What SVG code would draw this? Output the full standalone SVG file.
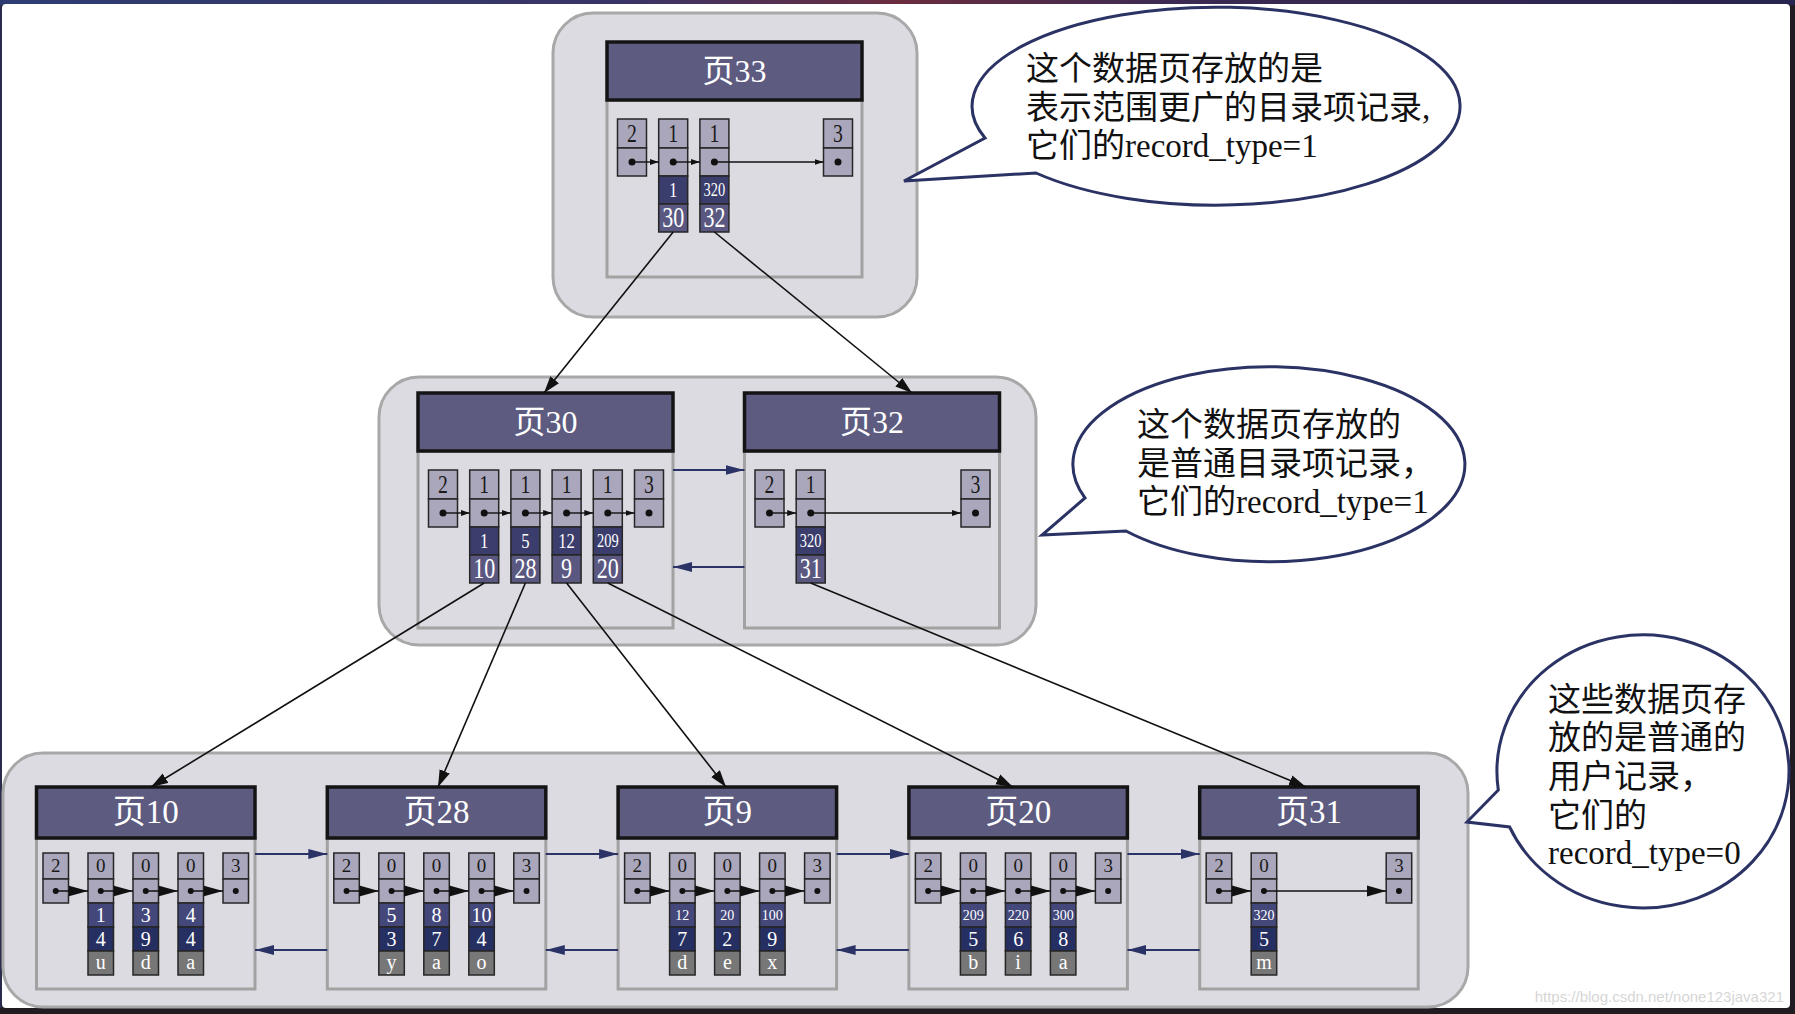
<svg xmlns="http://www.w3.org/2000/svg" xmlns:xlink="http://www.w3.org/1999/xlink" width="1795" height="1014" viewBox="0 0 1795 1014">
<style>
.frame{fill:#fff}
.box{fill:#dcdbe1;stroke:#a8a8a8;stroke-width:3}
.body{fill:#dcdbe1;stroke:#a2a2a2;stroke-width:3}
.hdr{fill:#5d5b80;stroke:#141414;stroke-width:3.5}
.c{fill:#aaa7bc;stroke:#262626;stroke-width:1.5}
.d1{fill:#3b3d6c;stroke:#262626;stroke-width:1.5}
.d2{fill:#5a5881;stroke:#262626;stroke-width:1.5}
.b1{fill:#43477a;stroke:#262626;stroke-width:1.5}
.b2{fill:#262f62;stroke:#262626;stroke-width:1.5}
.b3{fill:#777;stroke:#262626;stroke-width:1.5}
.dot{fill:#111}
text{font-family:"Liberation Serif","Noto Sans CJK SC",serif;text-anchor:middle}
.ht{font-size:32px;fill:#fff}
.hb{font-size:33px;fill:#fff}
.cd{transform:scaleX(0.76);transform-box:fill-box;transform-origin:center}
.ul{font-size:26px;fill:#1a1a1a}
.u1{font-size:22px;fill:#fff}
.u1s{font-size:19px;fill:#fff}
.u2{font-size:29px;fill:#fff}
.bl{font-size:19px;fill:#1a1a1a}
.bd{font-size:20px;fill:#fff}
.bs{font-size:14px;fill:#fff}
.ptr{stroke:#111;stroke-width:1.4;fill:none}
.con{stroke:#111;stroke-width:1.6;fill:none}
.lnk{stroke:#2b3366;stroke-width:2;fill:none}
.callout{fill:#fff;stroke:#2b3264;stroke-width:3;stroke-linejoin:miter}
.ct{font-family:"Liberation Serif","Noto Sans CJK SC",serif;font-size:33px;fill:#111;text-anchor:start}
</style>
<defs>
<linearGradient id="topg" x1="0" y1="0" x2="1" y2="0">
<stop offset="0" stop-color="#2d3d72"/>
<stop offset="0.35" stop-color="#3a3466"/>
<stop offset="0.5" stop-color="#6b2c3e"/>
<stop offset="0.65" stop-color="#3c2a52"/>
<stop offset="1" stop-color="#272450"/>
</linearGradient>
<marker id="ab" markerUnits="userSpaceOnUse" markerWidth="18" markerHeight="12" refX="17" refY="6" orient="auto"><path d="M0,0.5 L17,6 L0,11.5 z" fill="#111"/></marker>
<marker id="as" markerUnits="userSpaceOnUse" markerWidth="10" markerHeight="7" refX="9" refY="3.5" orient="auto"><path d="M0,0.5 L9,3.5 L0,6.5 z" fill="#111"/></marker>
<marker id="ap" markerUnits="userSpaceOnUse" markerWidth="20" markerHeight="12" refX="19.5" refY="6" orient="auto"><path d="M0,0.5 L19.5,6 L0,11.5 z" fill="#111"/></marker>
<marker id="an" markerUnits="userSpaceOnUse" markerWidth="20" markerHeight="11" refX="19" refY="5.5" orient="auto"><path d="M0,0.5 L19,5.5 L0,10.5 z" fill="#2b3366"/></marker>
<g id="uc"><rect class="c" x="0" y="0" width="29" height="29"/><rect class="c" x="0" y="29" width="29" height="28"/><circle class="dot" cx="14.5" cy="43" r="3.5"/></g>
<g id="ud"><rect class="d1" x="0" y="0" width="29" height="28"/><rect class="d2" x="0" y="28" width="29" height="28"/></g>
<g id="bc"><rect class="c" x="0" y="0" width="25.5" height="26"/><rect class="c" x="0" y="26" width="25.5" height="24"/><circle class="dot" cx="12.75" cy="38" r="3"/></g>
<g id="bdc"><rect class="b1" x="0" y="0" width="25.5" height="24"/><rect class="b2" x="0" y="24" width="25.5" height="24"/><rect class="b3" x="0" y="48" width="25.5" height="24"/></g>
</defs>

<g id="frame">
<rect x="0" y="0" width="1795" height="1014" fill="#201c22"/>
<rect x="0" y="0" width="1795" height="5" fill="url(#topg)"/>
<rect x="0" y="5" width="2" height="1003" fill="#2a2a4a"/>
<rect class="frame" x="2" y="4" width="1788" height="1004" rx="4"/>
</g>

<g id="containers">
<rect class="box" x="553" y="13" width="364" height="304" rx="40"/>
<rect class="box" x="379" y="377" width="657" height="268" rx="40"/>
<rect class="box" x="3" y="753" width="1465" height="254" rx="40"/>
</g>

<g id="page33">
<rect class="body" x="607" y="100" width="255" height="177"/>
<rect class="hdr" x="607" y="42" width="255" height="58"/>
<text class="ht" x="734.5" y="82">页33</text>
<use xlink:href="#uc" x="617.5" y="119"/>
<use xlink:href="#uc" x="658.7" y="119"/>
<use xlink:href="#uc" x="699.9" y="119"/>
<use xlink:href="#uc" x="823.5" y="119"/>
<use xlink:href="#ud" x="658.7" y="176"/>
<use xlink:href="#ud" x="699.9" y="176"/>
<text class="ul cd" x="632" y="142">2</text>
<text class="ul cd" x="673.2" y="142">1</text>
<text class="ul cd" x="714.4" y="142">1</text>
<text class="ul cd" x="838" y="142">3</text>
<text class="u1 cd" x="673.2" y="197">1</text>
<text class="u1s cd" x="714.4" y="196">320</text>
<text class="u2 cd" x="673.2" y="227">30</text>
<text class="u2 cd" x="714.4" y="227">32</text>
<line class="ptr" x1="632" y1="162" x2="658.7" y2="162" marker-end="url(#as)"/>
<line class="ptr" x1="673.2" y1="162" x2="699.9" y2="162" marker-end="url(#as)"/>
<line class="ptr" x1="714.4" y1="162" x2="823.5" y2="162" marker-end="url(#as)"/>
</g>

<g id="page30">
<rect class="body" x="418" y="451" width="255" height="177"/>
<rect class="hdr" x="418" y="393" width="255" height="58"/>
<text class="ht" x="545.5" y="433">页30</text>
<use xlink:href="#uc" x="428.5" y="470"/>
<use xlink:href="#uc" x="469.7" y="470"/>
<use xlink:href="#uc" x="510.9" y="470"/>
<use xlink:href="#uc" x="552.1" y="470"/>
<use xlink:href="#uc" x="593.3" y="470"/>
<use xlink:href="#uc" x="634.5" y="470"/>
<use xlink:href="#ud" x="469.7" y="527"/>
<use xlink:href="#ud" x="510.9" y="527"/>
<use xlink:href="#ud" x="552.1" y="527"/>
<use xlink:href="#ud" x="593.3" y="527"/>
<text class="ul cd" x="443" y="493">2</text>
<text class="ul cd" x="484.2" y="493">1</text>
<text class="ul cd" x="525.4" y="493">1</text>
<text class="ul cd" x="566.6" y="493">1</text>
<text class="ul cd" x="607.8" y="493">1</text>
<text class="ul cd" x="649" y="493">3</text>
<text class="u1 cd" x="484.2" y="548">1</text>
<text class="u1 cd" x="525.4" y="548">5</text>
<text class="u1 cd" x="566.6" y="548">12</text>
<text class="u1s cd" x="607.8" y="547">209</text>
<text class="u2 cd" x="484.2" y="578">10</text>
<text class="u2 cd" x="525.4" y="578">28</text>
<text class="u2 cd" x="566.6" y="578">9</text>
<text class="u2 cd" x="607.8" y="578">20</text>
<line class="ptr" x1="443" y1="513" x2="469.7" y2="513" marker-end="url(#as)"/>
<line class="ptr" x1="484.2" y1="513" x2="510.9" y2="513" marker-end="url(#as)"/>
<line class="ptr" x1="525.4" y1="513" x2="552.1" y2="513" marker-end="url(#as)"/>
<line class="ptr" x1="566.6" y1="513" x2="593.3" y2="513" marker-end="url(#as)"/>
<line class="ptr" x1="607.8" y1="513" x2="634.5" y2="513" marker-end="url(#as)"/>
</g>

<g id="page32">
<rect class="body" x="744.5" y="451" width="255" height="177"/>
<rect class="hdr" x="744.5" y="393" width="255" height="58"/>
<text class="ht" x="872" y="433">页32</text>
<use xlink:href="#uc" x="755" y="470"/>
<use xlink:href="#uc" x="796.2" y="470"/>
<use xlink:href="#uc" x="961" y="470"/>
<use xlink:href="#ud" x="796.2" y="527"/>
<text class="ul cd" x="769.5" y="493">2</text>
<text class="ul cd" x="810.7" y="493">1</text>
<text class="ul cd" x="975.5" y="493">3</text>
<text class="u1s cd" x="810.7" y="547">320</text>
<text class="u2 cd" x="810.7" y="578">31</text>
<line class="ptr" x1="769.5" y1="513" x2="796.2" y2="513" marker-end="url(#as)"/>
<line class="ptr" x1="810.7" y1="513" x2="961" y2="513" marker-end="url(#as)"/>
</g>

<g id="page10">
<rect class="body" x="36.5" y="838" width="218.5" height="151"/>
<rect class="hdr" x="36.5" y="787" width="218.5" height="51"/>
<text class="hb" x="145.75" y="823">页10</text>
<use xlink:href="#bc" x="43" y="853"/><use xlink:href="#bc" x="88" y="853"/><use xlink:href="#bc" x="133" y="853"/><use xlink:href="#bc" x="178" y="853"/><use xlink:href="#bc" x="223" y="853"/>
<use xlink:href="#bdc" x="88" y="903"/><use xlink:href="#bdc" x="133" y="903"/><use xlink:href="#bdc" x="178" y="903"/>
<text class="bl" x="55.75" y="872">2</text><text class="bl" x="100.75" y="872">0</text><text class="bl" x="145.75" y="872">0</text><text class="bl" x="190.75" y="872">0</text><text class="bl" x="235.75" y="872">3</text>
<text class="bd" x="100.75" y="922">1</text><text class="bd" x="100.75" y="946">4</text><text class="bd" x="100.75" y="969">u</text>
<text class="bd" x="145.75" y="922">3</text><text class="bd" x="145.75" y="946">9</text><text class="bd" x="145.75" y="969">d</text>
<text class="bd" x="190.75" y="922">4</text><text class="bd" x="190.75" y="946">4</text><text class="bd" x="190.75" y="969">a</text>
<line class="ptr" x1="55.75" y1="891" x2="88" y2="891" marker-end="url(#ap)"/>
<line class="ptr" x1="100.75" y1="891" x2="133" y2="891" marker-end="url(#ap)"/>
<line class="ptr" x1="145.75" y1="891" x2="178" y2="891" marker-end="url(#ap)"/>
<line class="ptr" x1="190.75" y1="891" x2="223" y2="891" marker-end="url(#ap)"/>
</g>

<g id="page28">
<rect class="body" x="327.3" y="838" width="218.5" height="151"/>
<rect class="hdr" x="327.3" y="787" width="218.5" height="51"/>
<text class="hb" x="436.55" y="823">页28</text>
<use xlink:href="#bc" x="333.8" y="853"/><use xlink:href="#bc" x="378.8" y="853"/><use xlink:href="#bc" x="423.8" y="853"/><use xlink:href="#bc" x="468.8" y="853"/><use xlink:href="#bc" x="513.8" y="853"/>
<use xlink:href="#bdc" x="378.8" y="903"/><use xlink:href="#bdc" x="423.8" y="903"/><use xlink:href="#bdc" x="468.8" y="903"/>
<text class="bl" x="346.55" y="872">2</text><text class="bl" x="391.55" y="872">0</text><text class="bl" x="436.55" y="872">0</text><text class="bl" x="481.55" y="872">0</text><text class="bl" x="526.55" y="872">3</text>
<text class="bd" x="391.55" y="922">5</text><text class="bd" x="391.55" y="946">3</text><text class="bd" x="391.55" y="969">y</text>
<text class="bd" x="436.55" y="922">8</text><text class="bd" x="436.55" y="946">7</text><text class="bd" x="436.55" y="969">a</text>
<text class="bd" x="481.55" y="922">10</text><text class="bd" x="481.55" y="946">4</text><text class="bd" x="481.55" y="969">o</text>
<line class="ptr" x1="346.55" y1="891" x2="378.8" y2="891" marker-end="url(#ap)"/>
<line class="ptr" x1="391.55" y1="891" x2="423.8" y2="891" marker-end="url(#ap)"/>
<line class="ptr" x1="436.55" y1="891" x2="468.8" y2="891" marker-end="url(#ap)"/>
<line class="ptr" x1="481.55" y1="891" x2="513.8" y2="891" marker-end="url(#ap)"/>
</g>

<g id="page9">
<rect class="body" x="618.1" y="838" width="218.5" height="151"/>
<rect class="hdr" x="618.1" y="787" width="218.5" height="51"/>
<text class="hb" x="727.35" y="823">页9</text>
<use xlink:href="#bc" x="624.6" y="853"/><use xlink:href="#bc" x="669.6" y="853"/><use xlink:href="#bc" x="714.6" y="853"/><use xlink:href="#bc" x="759.6" y="853"/><use xlink:href="#bc" x="804.6" y="853"/>
<use xlink:href="#bdc" x="669.6" y="903"/><use xlink:href="#bdc" x="714.6" y="903"/><use xlink:href="#bdc" x="759.6" y="903"/>
<text class="bl" x="637.35" y="872">2</text><text class="bl" x="682.35" y="872">0</text><text class="bl" x="727.35" y="872">0</text><text class="bl" x="772.35" y="872">0</text><text class="bl" x="817.35" y="872">3</text>
<text class="bs" x="682.35" y="920">12</text><text class="bd" x="682.35" y="946">7</text><text class="bd" x="682.35" y="969">d</text>
<text class="bs" x="727.35" y="920">20</text><text class="bd" x="727.35" y="946">2</text><text class="bd" x="727.35" y="969">e</text>
<text class="bs" x="772.35" y="920">100</text><text class="bd" x="772.35" y="946">9</text><text class="bd" x="772.35" y="969">x</text>
<line class="ptr" x1="637.35" y1="891" x2="669.6" y2="891" marker-end="url(#ap)"/>
<line class="ptr" x1="682.35" y1="891" x2="714.6" y2="891" marker-end="url(#ap)"/>
<line class="ptr" x1="727.35" y1="891" x2="759.6" y2="891" marker-end="url(#ap)"/>
<line class="ptr" x1="772.35" y1="891" x2="804.6" y2="891" marker-end="url(#ap)"/>
</g>

<g id="page20">
<rect class="body" x="908.9" y="838" width="218.5" height="151"/>
<rect class="hdr" x="908.9" y="787" width="218.5" height="51"/>
<text class="hb" x="1018.15" y="823">页20</text>
<use xlink:href="#bc" x="915.4" y="853"/><use xlink:href="#bc" x="960.4" y="853"/><use xlink:href="#bc" x="1005.4" y="853"/><use xlink:href="#bc" x="1050.4" y="853"/><use xlink:href="#bc" x="1095.4" y="853"/>
<use xlink:href="#bdc" x="960.4" y="903"/><use xlink:href="#bdc" x="1005.4" y="903"/><use xlink:href="#bdc" x="1050.4" y="903"/>
<text class="bl" x="928.15" y="872">2</text><text class="bl" x="973.15" y="872">0</text><text class="bl" x="1018.15" y="872">0</text><text class="bl" x="1063.15" y="872">0</text><text class="bl" x="1108.15" y="872">3</text>
<text class="bs" x="973.15" y="920">209</text><text class="bd" x="973.15" y="946">5</text><text class="bd" x="973.15" y="969">b</text>
<text class="bs" x="1018.15" y="920">220</text><text class="bd" x="1018.15" y="946">6</text><text class="bd" x="1018.15" y="969">i</text>
<text class="bs" x="1063.15" y="920">300</text><text class="bd" x="1063.15" y="946">8</text><text class="bd" x="1063.15" y="969">a</text>
<line class="ptr" x1="928.15" y1="891" x2="960.4" y2="891" marker-end="url(#ap)"/>
<line class="ptr" x1="973.15" y1="891" x2="1005.4" y2="891" marker-end="url(#ap)"/>
<line class="ptr" x1="1018.15" y1="891" x2="1050.4" y2="891" marker-end="url(#ap)"/>
<line class="ptr" x1="1063.15" y1="891" x2="1095.4" y2="891" marker-end="url(#ap)"/>
</g>

<g id="page31">
<rect class="body" x="1199.7" y="838" width="218.5" height="151"/>
<rect class="hdr" x="1199.7" y="787" width="218.5" height="51"/>
<text class="hb" x="1308.95" y="823">页31</text>
<use xlink:href="#bc" x="1206.2" y="853"/><use xlink:href="#bc" x="1251.2" y="853"/><use xlink:href="#bc" x="1386.2" y="853"/>
<use xlink:href="#bdc" x="1251.2" y="903"/>
<text class="bl" x="1218.95" y="872">2</text><text class="bl" x="1263.95" y="872">0</text><text class="bl" x="1398.95" y="872">3</text>
<text class="bs" x="1263.95" y="920">320</text><text class="bd" x="1263.95" y="946">5</text><text class="bd" x="1263.95" y="969">m</text>
<line class="ptr" x1="1218.95" y1="891" x2="1251.2" y2="891" marker-end="url(#ap)"/>
<line class="ptr" x1="1263.95" y1="891" x2="1386.2" y2="891" marker-end="url(#ap)"/>
</g>

<g id="connectors">
<line class="lnk" x1="673" y1="470" x2="744.5" y2="470" marker-end="url(#an)"/>
<line class="lnk" x1="744.5" y1="567" x2="673" y2="567" marker-end="url(#an)"/>
<line class="lnk" x1="255" y1="854" x2="327.3" y2="854" marker-end="url(#an)"/>
<line class="lnk" x1="545.8" y1="854" x2="618.1" y2="854" marker-end="url(#an)"/>
<line class="lnk" x1="836.6" y1="854" x2="908.9" y2="854" marker-end="url(#an)"/>
<line class="lnk" x1="1127.4" y1="854" x2="1199.7" y2="854" marker-end="url(#an)"/>
<line class="lnk" x1="327.3" y1="950" x2="255" y2="950" marker-end="url(#an)"/>
<line class="lnk" x1="618.1" y1="950" x2="545.8" y2="950" marker-end="url(#an)"/>
<line class="lnk" x1="908.9" y1="950" x2="836.6" y2="950" marker-end="url(#an)"/>
<line class="lnk" x1="1199.7" y1="950" x2="1127.4" y2="950" marker-end="url(#an)"/>
<line class="con" x1="673.2" y1="232" x2="544" y2="393" marker-end="url(#ab)"/>
<line class="con" x1="714.4" y1="232" x2="912" y2="393" marker-end="url(#ab)"/>
<line class="con" x1="484.2" y1="583" x2="151" y2="787" marker-end="url(#ab)"/>
<line class="con" x1="525.4" y1="583" x2="438" y2="787" marker-end="url(#ab)"/>
<line class="con" x1="566.6" y1="583" x2="726" y2="787" marker-end="url(#ab)"/>
<line class="con" x1="607.8" y1="583" x2="1013" y2="787" marker-end="url(#ab)"/>
<line class="con" x1="810.7" y1="583" x2="1306" y2="787" marker-end="url(#ab)"/>
</g>

<g id="callout1">
<path class="callout" d="M985,138 A244,99 0 1 1 1036,173 L904,181 Z"/>
<text class="ct" x="1026" y="80">这个数据页存放的是</text>
<text class="ct" x="1026" y="119">表示范围更广的目录项记录,</text>
<text class="ct" x="1026" y="157">它们的record_type=1</text>
</g>

<g id="callout2">
<path class="callout" d="M1085,498 A196,97.5 0 1 1 1126,531 L1042,535 Z"/>
<text class="ct" x="1137" y="436">这个数据页存放的</text>
<text class="ct" x="1137" y="475">是普通目录项记录，</text>
<text class="ct" x="1137" y="513">它们的record_type=1</text>
</g>

<g id="callout3">
<path class="callout" d="M1498.3,790 A146,136.5 0 1 1 1509.6,827 L1467,822 Z"/>
<text class="ct" x="1548" y="711">这些数据页存</text>
<text class="ct" x="1548" y="749">放的是普通的</text>
<text class="ct" x="1548" y="788">用户记录，</text>
<text class="ct" x="1548" y="827">它们的</text>
<text class="ct" x="1548" y="864">record_type=0</text>
</g>

<text x="1784" y="1002" style="font-family:'Liberation Sans',sans-serif;font-size:15px;fill:#d6d6d6;text-anchor:end">https://blog.csdn.net/none123java321</text>
</svg>
